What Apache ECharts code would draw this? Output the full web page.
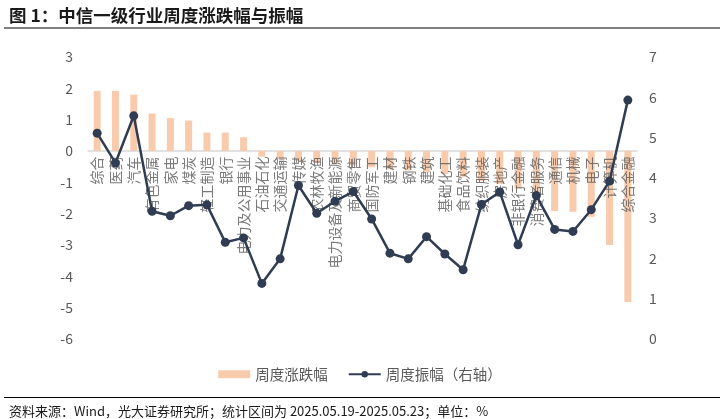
<!DOCTYPE html>
<html>
	<head>
		<meta charset="UTF-8">
		<title>中信一级行业周度涨跌幅与振幅</title>
		<script type="text/javascript" src="https://cdn.jsdelivr.net/npm/echarts@6/dist/echarts.min.js"></script>
		<style>
			html, body { margin:0; padding:0; background:#fff; }
			#main { width:720px; height:419px; }
		</style>
	</head>
	<body>
		<div id="main"></div>
	</body>
</html>
<script type="text/javascript">
// 行业（按周度涨跌幅排序）
var industries = ['综合','医药','汽车','有色金属','家电','煤炭','轻工制造','银行','电力及公用事业','石油石化',
	'交通运输','传媒','农林牧渔','电力设备及新能源','商贸零售','国防军工','建材','钢铁','建筑','基础化工',
	'食品饮料','纺织服装','房地产','非银行金融','消费者服务','通信','机械','电子','计算机','综合金融'];
// 周度涨跌幅 %
var weekChange = [1.92, 1.92, 1.80, 1.20, 1.05, 0.97, 0.59, 0.59, 0.44, -0.18,
	-0.26, -0.32, -0.38, -0.42, -0.46, -0.52, -0.58, -0.62, -0.68, -0.74,
	-0.82, -0.95, -1.05, -1.20, -1.50, -1.92, -1.94, -2.10, -3.00, -4.82];
// 周度振幅 %（右轴）
var weekAmplitude = [5.11, 4.37, 5.54, 3.17, 3.06, 3.31, 3.33, 2.40, 2.51, 1.38,
	1.99, 3.81, 3.12, 3.42, 3.66, 2.98, 2.13, 1.99, 2.54, 2.11,
	1.72, 3.34, 3.65, 2.34, 3.56, 2.72, 2.67, 3.21, 3.92, 5.93];

var font = '"Noto Sans CJK SC", "Noto Sans", sans-serif';
// 行业名贴着零线竖排（自下而上读），用一个透明散点系列挂标签
var labelAnchors = industries.map(function () { return 0; });

var myChart = echarts.init(document.getElementById('main'));
var option = {
	animation: false,
	textStyle: { fontFamily: font },
	title: [
		{
			text: '图 1：中信一级行业周度涨跌幅与振幅',
			left: 4, top: 2,
			textStyle: { fontSize: 17.5, fontWeight: 'bold', color: '#1a1a1a', fontFamily: font }
		},
		{
			text: '资料来源：Wind，光大证券研究所；统计区间为 2025.05.19-2025.05.23；单位：%',
			left: 4, top: 400,
			textStyle: { fontSize: 13, fontWeight: 'normal', color: '#1a1a1a', fontFamily: font }
		}
	],
	graphic: [
		{ type: 'line', shape: { x1: 4, y1: 28, x2: 720, y2: 28 }, style: { stroke: '#000', lineWidth: 1 } },
		{ type: 'line', shape: { x1: 4, y1: 397.5, x2: 720, y2: 397.5 }, style: { stroke: '#000', lineWidth: 1 } }
	],
	legend: {
		top: 362,
		left: 'center',
		itemGap: 20,
		itemWidth: 32,
		itemHeight: 8,
		textStyle: { fontSize: 14.5, color: '#595959', fontFamily: font },
		data: [
			{ name: '周度涨跌幅', icon: 'rect' },
			{ name: '周度振幅（右轴）' }
		]
	},
	grid: { left: 88, right: 83, top: 57, bottom: 80, outerBoundsMode: 'none', containLabel: false },
	xAxis: {
		type: 'category',
		data: industries,
		axisLine: { onZero: true, onZeroAxisIndex: 0, lineStyle: { color: '#D9D9D9', width: 1.5 } },
		axisTick: { show: false },
		axisLabel: { show: false }
	},
	yAxis: [
		{
			type: 'value',
			min: -6, max: 3, interval: 1,
			splitLine: { show: false },
			axisLine: { show: false },
			axisTick: { show: false },
			axisLabel: { fontSize: 14, color: '#595959', margin: 15, fontFamily: font }
		},
		{
			type: 'value',
			min: 0, max: 7, interval: 1,
			splitLine: { show: false },
			axisLine: { show: false },
			axisTick: { show: false },
			axisLabel: { fontSize: 14, color: '#595959', margin: 12, fontFamily: font }
		}
	],
	series: [
		{
			name: '周度涨跌幅',
			type: 'bar',
			yAxisIndex: 0,
			barWidth: 7,
			data: weekChange,
			itemStyle: { color: '#F8CBAD' }
		},
		{
			name: 'labels',
			type: 'scatter',
			yAxisIndex: 0,
			z: 5,
			silent: true,
			symbolSize: 1,
			itemStyle: { color: 'rgba(0,0,0,0)' },
			data: labelAnchors,
			label: {
				show: true,
				position: 'bottom',
				distance: 5,
				rotate: 90,
				align: 'right',
				verticalAlign: 'middle',
				fontSize: 14,
				color: '#595959',
				fontFamily: font,
				formatter: function (p) { return industries[p.dataIndex]; }
			}
		},
		{
			name: '周度振幅（右轴）',
			type: 'line',
			yAxisIndex: 1,
			z: 10,
			data: weekAmplitude,
			symbol: 'circle',
			symbolSize: 9,
			lineStyle: { color: '#2F3C52', width: 2.5 },
			itemStyle: { color: '#2F3C52' }
		}
	]
};
myChart.setOption(option);
</script>
